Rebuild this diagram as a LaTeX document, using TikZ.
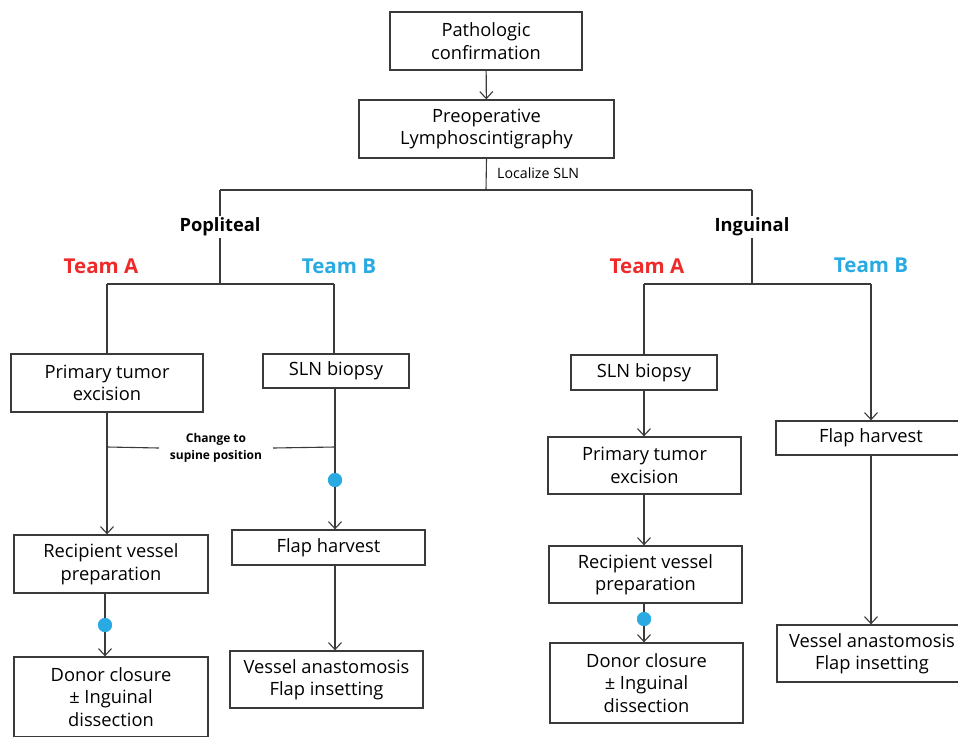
\documentclass[tikz,border=0pt]{standalone}
\usepackage{fontspec}
\setmainfont{Open Sans}
\usetikzlibrary{arrows.meta}
\definecolor{ln}{HTML}{3A3A3A}
\definecolor{tred}{HTML}{EE2A2A}
\definecolor{tblue}{HTML}{2AAAE2}
\begin{document}
\begin{tikzpicture}[x=1pt,y=-1pt,
  box/.style={draw=ln,line width=1.3pt,align=center,inner sep=0pt,font=\fontsize{18.3}{22.5}\selectfont},
  conn/.style={draw=ln,line width=1.1pt},
  arr/.style={conn,-{Straight Barb[length=7pt,width=13pt,line width=1.1pt]}},
  branch/.style={font=\bfseries\fontsize{18.3}{20}\selectfont,inner sep=2pt},
  team/.style={font=\bfseries\fontsize{20.5}{24}\selectfont,inner sep=0pt},
  dot/.style={circle,fill=tblue,inner sep=0pt,minimum size=14pt},
  small/.style={font=\fontsize{14.2}{16}\selectfont,inner sep=0pt}]
\useasboundingbox (0,0) rectangle (958,736);
\fill[white] (0,0) rectangle (958,736);
% boxes
\node[box,minimum width=192pt,minimum height=58pt] (path) at (486,41) {Pathologic\\confirmation};
\node[box,minimum width=255pt,minimum height=58pt] (lympho) at (486.5,129) {Preoperative\\Lymphoscintigraphy};
\node[branch] (popl) at (220,227) {Popliteal};
\node[branch] (ingu) at (752,227) {Inguinal};
\node[team,text=tred] (tA1) at (101,266) {Team A};
\node[team,text=tblue] (tB1) at (339,266) {Team B};
\node[team,text=tred] (tA2) at (647,266) {Team A};
\node[team,text=tblue] (tB2) at (871,265) {Team B};
\node[small,anchor=west] (loc) at (497,173) {Localize SLN};
% popliteal
\node[box,minimum width=192pt,minimum height=58pt] (ptA1) at (107,383) {Primary tumor\\excision};
\node[box,minimum width=146pt,minimum height=34pt] (slnB1) at (336,371) {SLN biopsy};
\node[box,minimum width=194pt,minimum height=58pt] (recA1) at (111,564) {Recipient vessel\\preparation};
\node[box,minimum width=194pt,minimum height=80pt] (donA1) at (111,697) {Donor closure\\± Inguinal\\dissection};
\node[box,minimum width=193pt,minimum height=35pt] (flapB1) at (328.5,547.5) {Flap harvest};
\node[box,minimum width=193pt,minimum height=57pt] (vesB1) at (326.5,679.5) {Vessel anastomosis\\Flap insetting};
\node[font=\bfseries\fontsize{12}{17}\selectfont,align=center,inner xsep=11pt,inner ysep=0pt] (chg) at (216,448) {Change to\\supine position};
% inguinal
\node[box,minimum width=146pt,minimum height=35pt] (slnA2) at (644,372.5) {SLN biopsy};
\node[box,minimum width=193pt,minimum height=57pt] (ptA2) at (644.5,465.5) {Primary tumor\\excision};
\node[box,minimum width=193pt,minimum height=57pt] (recA2) at (645.5,574.5) {Recipient vessel\\preparation};
\node[box,minimum width=193pt,minimum height=80pt] (donA2) at (646.5,683) {Donor closure\\± Inguinal\\dissection};
\node[box,minimum width=190pt,minimum height=34pt] (flapB2) at (871,438) {Flap harvest};
\node[box,minimum width=190pt,minimum height=57pt] (vesB2) at (872,653.5) {Vessel anastomosis\\Flap insetting};
% junction coordinates
\coordinate (j0) at (486,190);
\coordinate (jL) at (220,190);
\coordinate (jR) at (752,190);
\coordinate (pj) at (220,284);
\coordinate (pjL) at (107,284);
\coordinate (pjR) at (334,284);
\coordinate (ij) at (752,284);
\coordinate (ijL) at (644,284);
\coordinate (ijR) at (871,284);
\coordinate (c1) at (107,447);
\coordinate (c2) at (335,447);
% connectors
\draw[arr] (path) -- (lympho);
\draw[conn] (lympho.south) -- (j0);
\draw[conn] (jL) -- (jR);
\draw[conn] (jL) -- (popl.north);
\draw[conn] (jR) -- (ingu.north);
\draw[conn] (popl.south) -- (pj);
\draw[conn] (pjL) -- (pjR);
\draw[conn] (pjL) -- (ptA1.north);
\draw[conn] (pjR) -- (pjR |- slnB1.north);
\draw[arr] (ptA1.south) -- (c1) -- (c1 |- recA1.north);
\draw[conn] (c1) -- (chg.west);
\draw[conn] (chg.east) -- (c2);
\node[dot] (d1) at (335,480) {};
\draw[conn] (c2 |- slnB1.south) -- (d1);
\draw[arr] (d1) -- (d1 |- flapB1.north);
\draw[arr] (c2 |- flapB1.south) -- (c2 |- vesB1.north);
\node[dot] (d2) at (105,625) {};
\draw[conn] (d2 |- recA1.south) -- (d2);
\draw[arr] (d2) -- (d2 |- donA1.north);
\draw[conn] (ingu.south) -- (ij);
\draw[conn] (ijL) -- (ijR);
\draw[conn] (ijL) -- (slnA2.north);
\draw[arr] (slnA2.south) -- (slnA2.south |- ptA2.north);
\node[dot] (d3) at (644,619) {};
\draw[arr] (d3 |- ptA2.south) -- (d3 |- recA2.north);
\draw[conn] (d3 |- recA2.south) -- (d3);
\draw[arr] (d3) -- (d3 |- donA2.north);
\draw[arr] (ijR) -- (flapB2.north);
\draw[arr] (flapB2.south) -- (flapB2.south |- vesB2.north);
\node[dot] at (d1) {};
\node[dot] at (d2) {};
\node[dot] at (d3) {};
\end{tikzpicture}
\end{document}
